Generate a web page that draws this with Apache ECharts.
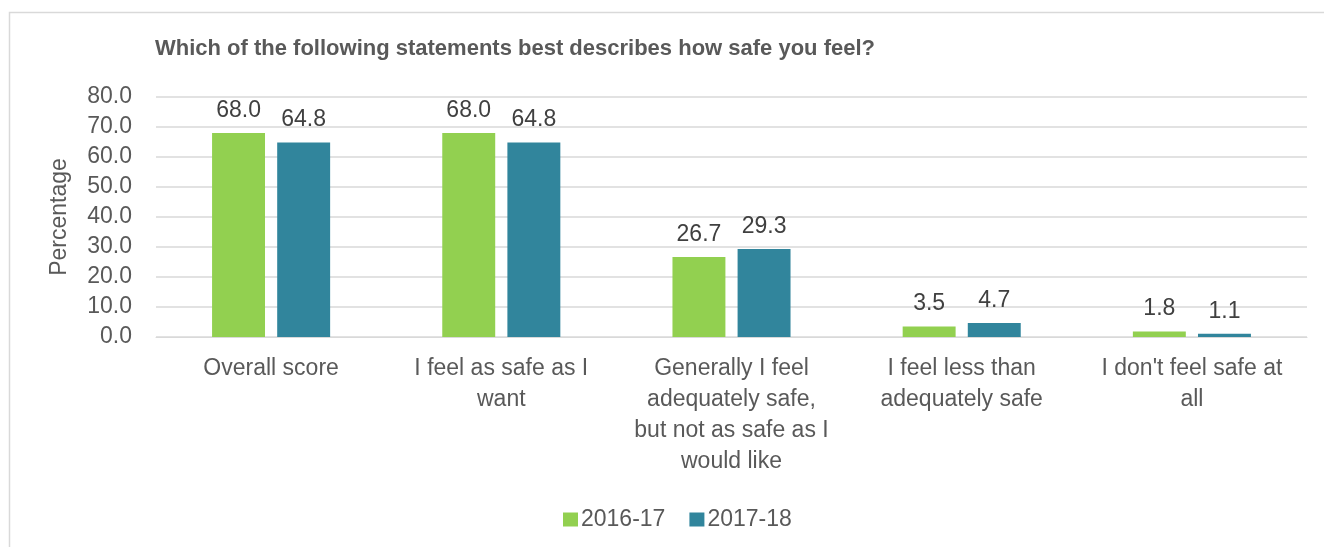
<!DOCTYPE html>
<html>
<head>
<meta charset="utf-8">
<script src="https://cdn.jsdelivr.net/npm/echarts@6/dist/echarts.min.js"></script>
<style>
html,body{margin:0;padding:0;background:#fff;}
#c{width:1324px;height:547px;}
</style>
</head>
<body>
<div id="c"></div>
<script>
const titleText = "Which of the following statements best describes how safe you feel?";
const categories = [
  "Overall score",
  "I feel as safe as I\nwant",
  "Generally I feel\nadequately safe,\nbut not as safe as I\nwould like",
  "I feel less than\nadequately safe",
  "I don't feel safe at\nall"
];
const seriesNames = ["2016-17", "2017-18"];
const values2016 = [68.0, 68.0, 26.7, 3.5, 1.8];
const values2017 = [64.8, 64.8, 29.3, 4.7, 1.1];
const yAxisName = "Percentage";

const FONT = '"Liberation Sans", Arial, sans-serif';
const chart = echarts.init(document.getElementById('c'), null, {renderer: 'canvas'});
const labelStyle = {
  show: true, position: 'top', distance: 11,
  color: '#404040', fontSize: 23, fontFamily: FONT,
  formatter: p => p.value.toFixed(1)
};
chart.setOption({
  animation: false,
  backgroundColor: '#ffffff',
  textStyle: {fontFamily: FONT},
  graphic: [{
    type: 'rect', silent: true, z: -10,
    shape: {x: 9.5, y: 12.5, width: 1340, height: 560},
    style: {fill: null, stroke: '#D9D9D9', lineWidth: 1.5}
  }],
  title: {
    text: titleText, left: 150, top: 33,
    textStyle: {fontFamily: FONT, fontSize: 22, fontWeight: 'bold', color: '#595959'}
  },
  legend: {
    data: seriesNames, left: 558, top: 503,
    icon: 'rect', itemWidth: 15, itemHeight: 14, itemGap: 24,
    textStyle: {fontFamily: FONT, fontSize: 23, color: '#595959', padding: [0, 0, 0, -2]}
  },
  grid: {left: 156, right: 17, top: 97, bottom: 210, containLabel: false},
  xAxis: {
    type: 'category', data: categories,
    axisLine: {show: true, lineStyle: {color: '#D9D9D9', width: 1}},
    axisTick: {show: false},
    axisLabel: {interval: 0, margin: 16, fontSize: 23, lineHeight: 31, color: '#595959', fontFamily: FONT, align: 'center'}
  },
  yAxis: {
    type: 'value', min: 0, max: 80, interval: 10,
    name: yAxisName, nameLocation: 'middle', nameGap: 85, nameRotate: 90,
    nameTextStyle: {fontFamily: FONT, fontSize: 23, color: '#595959'},
    axisLine: {show: false}, axisTick: {show: false},
    axisLabel: {margin: 24, fontSize: 23, color: '#595959', fontFamily: FONT, formatter: v => v.toFixed(1)},
    splitLine: {lineStyle: {color: '#D9D9D9', width: 1.5}}
  },
  series: [
    {name: seriesNames[0], type: 'bar', data: values2016, barWidth: '23%', barGap: '23%',
     itemStyle: {color: '#92D050'}, label: labelStyle},
    {name: seriesNames[1], type: 'bar', data: values2017, barWidth: '23%', barGap: '23%',
     itemStyle: {color: '#31859C'}, label: labelStyle}
  ]
});
</script>
</body>
</html>
